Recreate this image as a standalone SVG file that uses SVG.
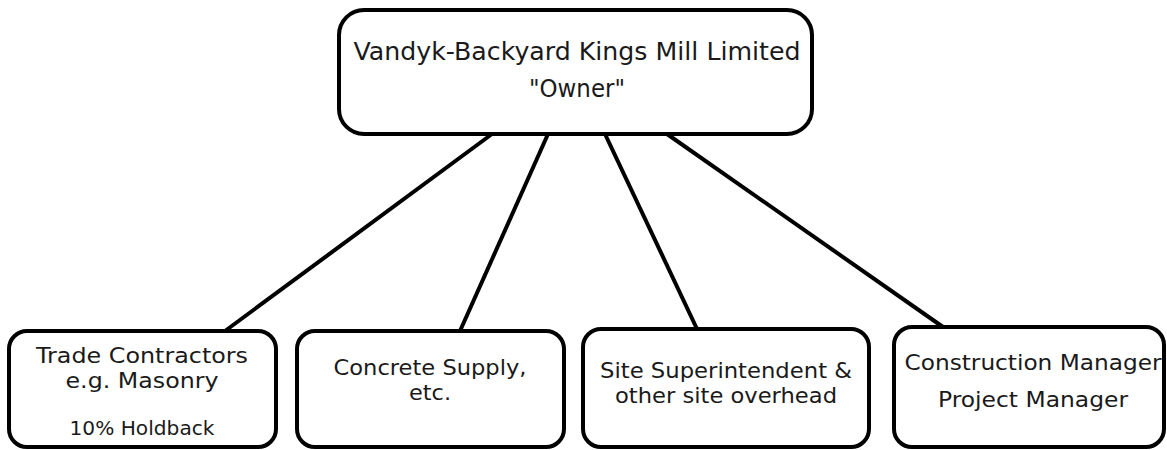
<svg xmlns="http://www.w3.org/2000/svg" width="1167" height="450" viewBox="0 0 1167 450">
<style>
.box{fill:#fff;stroke:#000;stroke-width:4}
.t{font-family:"DejaVu Sans","Liberation Sans",Arial,sans-serif;fill:#1a1a1a;text-anchor:middle}
.big{font-size:25px}
.mid{font-size:22px}
.sm{font-size:19px}
.c{stroke:#000;stroke-width:4;fill:none}
</style>
<rect width="1167" height="450" fill="#fff"/>
<g id="connectors">
<line class="c" x1="492" y1="134" x2="225" y2="331"/>
<line class="c" x1="548" y1="134" x2="460" y2="331"/>
<line class="c" x1="605" y1="134" x2="697" y2="329"/>
<line class="c" x1="667" y1="134" x2="943" y2="327"/>
</g>
<g id="owner">
<rect class="box" x="339" y="10" width="473" height="124" rx="25"/>
<text class="t big" x="577" y="60" textLength="447" lengthAdjust="spacingAndGlyphs">Vandyk-Backyard Kings Mill Limited</text>
<text class="t big" x="577" y="97" textLength="96" lengthAdjust="spacingAndGlyphs">"Owner"</text>
</g>
<g id="trade">
<rect class="box" x="9" y="331" width="267" height="116" rx="18"/>
<text class="t mid" x="142" y="363" textLength="212" lengthAdjust="spacingAndGlyphs">Trade Contractors</text>
<text class="t mid" x="142" y="388" textLength="153" lengthAdjust="spacingAndGlyphs">e.g. Masonry</text>
<text class="t sm" x="142" y="435" textLength="145" lengthAdjust="spacingAndGlyphs">10% Holdback</text>
</g>
<g id="concrete">
<rect class="box" x="297" y="331" width="267" height="116" rx="18"/>
<text class="t mid" x="430" y="375" textLength="193" lengthAdjust="spacingAndGlyphs">Concrete Supply,</text>
<text class="t mid" x="430" y="400" textLength="42" lengthAdjust="spacingAndGlyphs">etc.</text>
</g>
<g id="site">
<rect class="box" x="583" y="329" width="286" height="118" rx="18"/>
<text class="t mid" x="726" y="378" textLength="252" lengthAdjust="spacingAndGlyphs">Site Superintendent &amp;</text>
<text class="t mid" x="726" y="403" textLength="222" lengthAdjust="spacingAndGlyphs">other site overhead</text>
</g>
<g id="cm">
<rect class="box" x="894" y="327" width="270" height="120" rx="18"/>
<text class="t mid" x="1033" y="370" textLength="257" lengthAdjust="spacingAndGlyphs">Construction Manager</text>
<text class="t mid" x="1033" y="407" textLength="190" lengthAdjust="spacingAndGlyphs">Project Manager</text>
</g>
</svg>
